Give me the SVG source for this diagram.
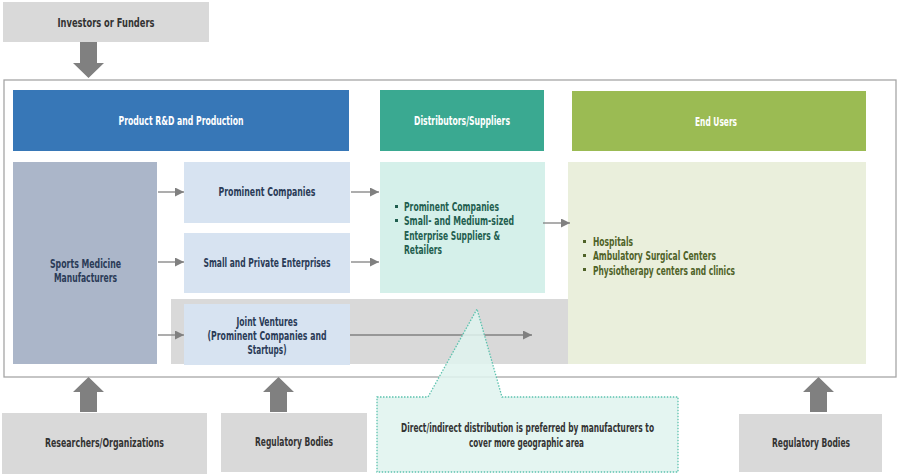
<svg xmlns="http://www.w3.org/2000/svg" width="900" height="476" viewBox="0 0 900 476">
<style>
text{font-family:"DejaVu Sans Condensed","DejaVu Sans","Liberation Sans",sans-serif;font-stretch:condensed;font-weight:bold;font-size:12.5px;}
.c{text-anchor:middle;}
.gray{fill:#d9d9d9;}
.gt{fill:#333333;}
.nt{fill:#2a3b57;}
.wt{fill:#ffffff;}
.thin{stroke:#808080;stroke-width:1.3;fill:none;marker-end:url(#ah);}
.big{fill:#808080;}
</style>
<defs>
<marker id="ah" viewBox="0 0 10 10" refX="10" refY="5" markerWidth="9" markerHeight="9" markerUnits="userSpaceOnUse" orient="auto">
<path d="M0,0 L10,5 L0,10 z" fill="#808080"/>
</marker>
</defs>
<rect x="0" y="0" width="900" height="476" fill="#ffffff"/>
<rect id="frame" x="4" y="80" width="892" height="297" fill="#ffffff" stroke="#a6a6a6" stroke-width="1.3"/>

<g id="investors"><rect class="gray" x="3" y="2" width="206" height="40"/><text class="c gt" x="106" y="27" textLength="97" lengthAdjust="spacingAndGlyphs">Investors or Funders</text></g>

<g id="header-rd"><rect x="13" y="90" width="336" height="61" fill="#3777b7"/><text class="c wt" x="181" y="125" textLength="125" lengthAdjust="spacingAndGlyphs">Product R&amp;D and Production</text></g>
<g id="header-dist"><rect x="380" y="90" width="164" height="61" fill="#3aa991"/><text class="c wt" x="462" y="125" textLength="96" lengthAdjust="spacingAndGlyphs">Distributors/Suppliers</text></g>
<g id="header-end"><rect x="572" y="91" width="294" height="60" fill="#9bbb53"/><text class="c wt" x="716" y="126" textLength="42" lengthAdjust="spacingAndGlyphs">End Users</text></g>

<g id="band"><rect x="171" y="299" width="400" height="65" fill="#d9d9d9"/></g>

<g id="manufacturers"><rect x="13" y="162" width="144" height="202" fill="#abb6c9"/><text class="c nt" x="85.5" y="268" textLength="71" lengthAdjust="spacingAndGlyphs">Sports Medicine</text><text class="c nt" x="85.5" y="282" textLength="63" lengthAdjust="spacingAndGlyphs">Manufacturers</text></g>
<g id="prominent"><rect x="184" y="162" width="166" height="61" fill="#d7e3f1"/><text class="c nt" x="267" y="196" textLength="97" lengthAdjust="spacingAndGlyphs">Prominent Companies</text></g>
<g id="small"><rect x="184" y="233" width="166" height="60" fill="#d7e3f1"/><text class="c nt" x="267" y="267" textLength="127" lengthAdjust="spacingAndGlyphs">Small and Private Enterprises</text></g>
<g id="joint"><rect x="184" y="304" width="166" height="61" fill="#d7e3f1"/><text class="c nt" x="267" y="326" textLength="61" lengthAdjust="spacingAndGlyphs">Joint Ventures</text><text class="c nt" x="267" y="340" textLength="119" lengthAdjust="spacingAndGlyphs">(Prominent Companies and</text><text class="c nt" x="267" y="354" textLength="39" lengthAdjust="spacingAndGlyphs">Startups)</text></g>

<g id="distributors"><rect x="380" y="162" width="165" height="131" fill="#d5f0ea"/>
<rect x="395" y="205" width="3" height="3" fill="#1f5e4f"/><rect x="395" y="219" width="3" height="3" fill="#1f5e4f"/>
<text fill="#1f5e4f" x="404" y="211" textLength="95" lengthAdjust="spacingAndGlyphs">Prominent Companies</text>
<text fill="#1f5e4f" x="404" y="225" textLength="110" lengthAdjust="spacingAndGlyphs">Small- and Medium-sized</text>
<text fill="#1f5e4f" x="404" y="240" textLength="96" lengthAdjust="spacingAndGlyphs">Enterprise Suppliers &amp;</text>
<text fill="#1f5e4f" x="404" y="254" textLength="38" lengthAdjust="spacingAndGlyphs">Retailers</text></g>

<g id="endusers"><rect x="568" y="162" width="298" height="202" fill="#eaefdc"/>
<rect x="583" y="240" width="3" height="3" fill="#4f6228"/><rect x="583" y="254" width="3" height="3" fill="#4f6228"/><rect x="583" y="268" width="3" height="3" fill="#4f6228"/>
<text fill="#4f6228" x="593" y="246" textLength="40" lengthAdjust="spacingAndGlyphs">Hospitals</text>
<text fill="#4f6228" x="593" y="260" textLength="123" lengthAdjust="spacingAndGlyphs">Ambulatory  Surgical Centers</text>
<text fill="#4f6228" x="593" y="275" textLength="142" lengthAdjust="spacingAndGlyphs">Physiotherapy centers and clinics</text></g>

<g id="connectors">
<line class="thin" x1="158" y1="192" x2="184" y2="192"/>
<line class="thin" x1="158" y1="262" x2="184" y2="262"/>
<line class="thin" x1="158" y1="335" x2="184" y2="335"/>
<line class="thin" x1="351" y1="192" x2="379" y2="192"/>
<line class="thin" x1="351" y1="262" x2="379" y2="262"/>
<line class="thin" x1="543" y1="223" x2="570" y2="223"/>
<line class="thin" x1="350" y1="335" x2="532" y2="335"/>
<path class="big" d="M80,42 H97 V63 H104 L88.5,78 L73,63 H80 Z"/>
<path class="big" d="M80,412 H97 V392 H104 L88.5,377 L73,392 H80 Z"/>
<path class="big" d="M270,412 H287 V392 H294 L278.5,377 L263,392 H270 Z"/>
<path class="big" d="M810,412 H827 V392 H834 L818.5,377 L803,392 H810 Z"/>
</g>

<g id="callout"><path d="M377,397 H428 L477,309 L502,397 H678 V472 H377 Z" fill="#dff3ee" fill-opacity="0.85" stroke="#5cc2ae" stroke-width="1.3" stroke-dasharray="1.5,1.5"/>
<text class="c gt" x="527.5" y="432" textLength="253" lengthAdjust="spacingAndGlyphs">Direct/indirect distribution is preferred by manufacturers to</text>
<text class="c gt" x="526.5" y="447" textLength="115" lengthAdjust="spacingAndGlyphs">cover more geographic area</text></g>

<g id="researchers"><rect class="gray" x="2" y="413" width="205" height="61"/><text class="c gt" x="104.5" y="447" textLength="119" lengthAdjust="spacingAndGlyphs">Researchers/Organizations</text></g>
<g id="regulatory1"><rect class="gray" x="221" y="413" width="146" height="59"/><text class="c gt" x="294" y="446" textLength="78" lengthAdjust="spacingAndGlyphs">Regulatory Bodies</text></g>
<g id="regulatory2"><rect class="gray" x="739" y="414" width="143" height="58"/><text class="c gt" x="811" y="447" textLength="78" lengthAdjust="spacingAndGlyphs">Regulatory Bodies</text></g>
</svg>
